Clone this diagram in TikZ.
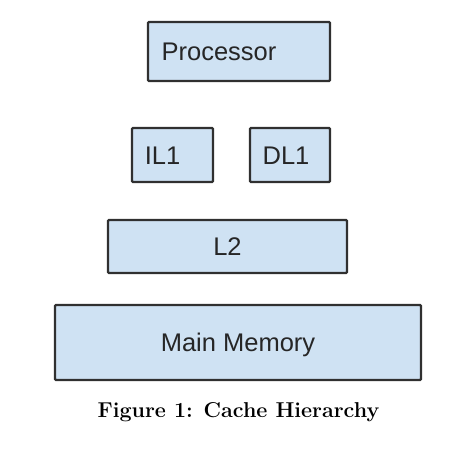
\documentclass[tikz,border=0pt]{standalone}
\usepackage{fontspec}
\newfontfamily\boxfont{Liberation Sans}
\usepackage{tikz}
\usetikzlibrary{positioning}

\definecolor{cachefill}{HTML}{CFE2F3}
\definecolor{cacheline}{HTML}{303030}
\definecolor{cachetext}{HTML}{262626}

\begin{document}
\begin{tikzpicture}[
	x=1pt, y=-1pt,
	% Define a style for all boxes
	level box/.style={rectangle, draw=cacheline, fill=cachefill, line width=2.2pt, rounded corners=1pt, inner sep=0pt},
	box text/.style={font=\boxfont\fontsize{25.5}{30}\selectfont, text=cachetext, text height=18.4pt, text depth=0pt, inner sep=0pt}
	]
	\useasboundingbox (0,0) rectangle (474,448);
	
	% Define and place the boxes
	\node[level box, minimum width=182pt, minimum height=59pt, label={[box text, xshift=-20pt]center:Processor}] (proc) at (239,51.5) {};
	\node[level box, minimum width=81pt, minimum height=54pt, label={[box text, xshift=-10pt]center:IL1}] (il1) at (172.5,155) {};
	\node[level box, minimum width=80pt, minimum height=54pt, label={[box text, xshift=-4pt]center:DL1}] (dl1) at (290,155) {};
	\node[level box, minimum width=239pt, minimum height=53pt, label={[box text]center:L2}] (l2) at (227.5,246.5) {};
	\node[level box, minimum width=366pt, minimum height=75pt, label={[box text]center:Main Memory}] (mem) at (238,342.5) {};
	
	% --- Caption ---
	\node[font=\fontsize{21.5}{26}\selectfont\bfseries] (caption) at (238.5,412) {Figure 1: Cache Hierarchy};
\end{tikzpicture}
\end{document}
